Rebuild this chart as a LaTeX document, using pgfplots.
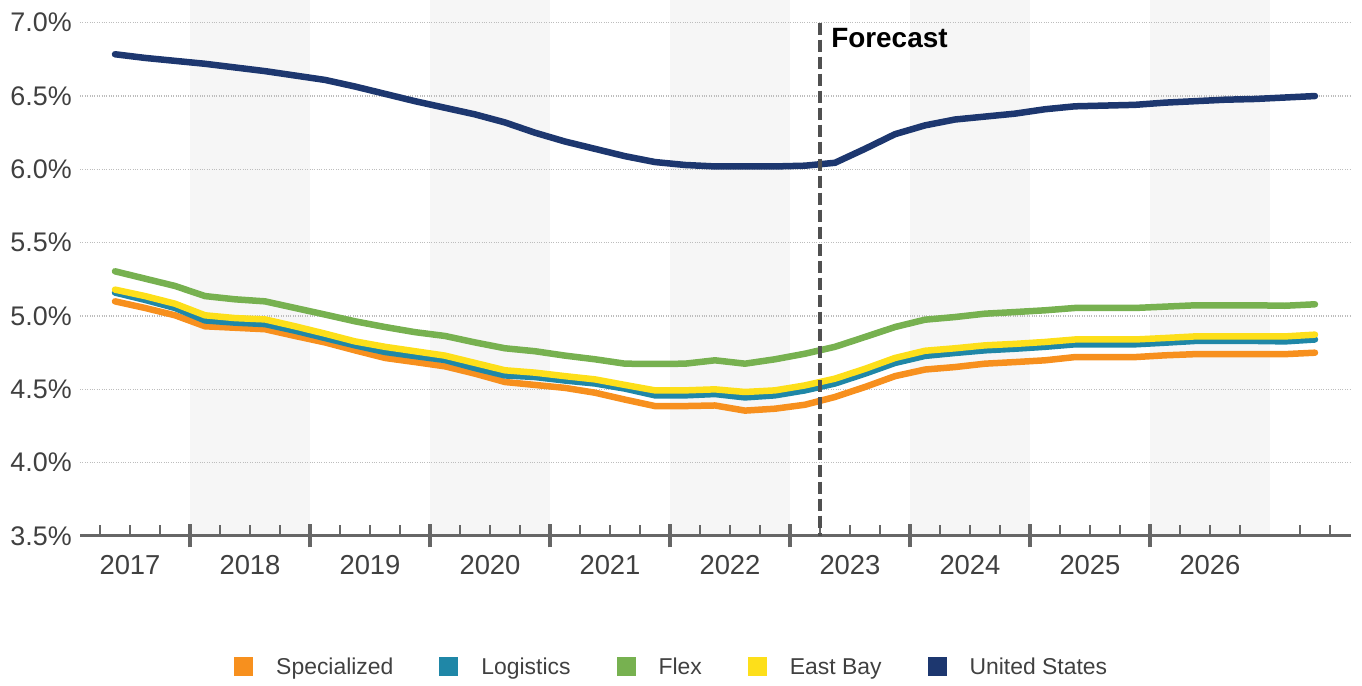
\documentclass[border=0pt]{standalone}
\usepackage{pgfplots}
\usepackage{pgfplotstable}
\pgfplotsset{compat=1.18}
\usepackage{fontspec}
\setmainfont{Liberation Sans}
\definecolor{cOrange}{HTML}{F7901E}
\definecolor{cBlue}{HTML}{1F87A7}
\definecolor{cGreen}{HTML}{77B150}
\definecolor{cYellow}{HTML}{FDDF1A}
\definecolor{cNavy}{HTML}{1D376F}
\definecolor{band}{HTML}{F6F6F6}
\definecolor{axgray}{HTML}{666666}
\definecolor{txt}{HTML}{404040}
\definecolor{gridc}{HTML}{BDBDBD}
\definecolor{dashc}{HTML}{505050}

% u = quarter index (1.5 = first point), values in percent
\pgfplotstableread{
u     orange  blue   green  yellow navy
1.5   5.100   5.160  5.305  5.180  6.785
2.5   5.055   5.110  5.255  5.136  6.760
3.5   5.005   5.055  5.205  5.084  6.740
4.5   4.930   4.970  5.136  5.005  6.720
5.5   4.920   4.955  5.114  4.986  6.695
6.5   4.910   4.945  5.100  4.977  6.670
7.5   4.864   4.900  5.055  4.930  6.640
8.5   4.820   4.850  5.010  4.880  6.610
9.5   4.766   4.800  4.964  4.827  6.565
10.5  4.714   4.755  4.925  4.790  6.515
11.5  4.686   4.727  4.890  4.760  6.465
12.5  4.657   4.700  4.864  4.730  6.420
13.5  4.607   4.645  4.820  4.680  6.375
14.5  4.550   4.595  4.780  4.630  6.320
15.5  4.530   4.584  4.760  4.614  6.250
16.5  4.510   4.560  4.730  4.590  6.190
17.5  4.477   4.540  4.705  4.568  6.140
18.5  4.430   4.505  4.675  4.530  6.090
19.5  4.386   4.459  4.673  4.493  6.050
20.5  4.386   4.459  4.675  4.493  6.030
21.5  4.390   4.468  4.698  4.500  6.020
22.5  4.355   4.445  4.675  4.482  6.020
23.5  4.368   4.459  4.705  4.493  6.020
24.5  4.395   4.493  4.743  4.527  6.025
25.5  4.448   4.540  4.790  4.573  6.045
26.5  4.516   4.607  4.857  4.640  6.140
27.5  4.590   4.680  4.925  4.714  6.240
28.5  4.635   4.728  4.975  4.763  6.300
29.5  4.652   4.748  4.993  4.780  6.340
30.5  4.675   4.766  5.016  4.800  6.360
31.5  4.686   4.777  5.027  4.810  6.380
32.5  4.698   4.790  5.039  4.823  6.410
33.5  4.720   4.807  5.055  4.840  6.430
34.5  4.720   4.807  5.055  4.840  6.435
35.5  4.720   4.807  5.055  4.840  6.440
36.5  4.732   4.818  5.064  4.850  6.455
37.5  4.740   4.830  5.073  4.861  6.465
38.5  4.740   4.830  5.073  4.861  6.475
39.5  4.740   4.830  5.073  4.861  6.480
40.5  4.740   4.827  5.070  4.861  6.490
41.5  4.750   4.840  5.080  4.873  6.500
}\rates

\begin{document}
\begin{tikzpicture}
\path (0,0) rectangle (1362bp,686bp);
\begin{axis}[
  set layers,
  scale only axis,
  width=1271bp, height=536bp,
  at={(80bp,150bp)}, anchor=south west,
  xmin=0.3333, xmax=42.7, ymin=3.5, ymax=7.155,
  axis x line*=bottom, axis y line*=left,
  x axis line style={draw=axgray, line width=3bp, -},
  y axis line style={draw=none, -},
  ytick={3.5,4.0,4.5,5.0,5.5,6.0,6.5,7.0},
  ytick style={draw=none},
  yticklabel={\pgfmathprintnumber[fixed,fixed zerofill,precision=1,assume math mode=true]{\tick}\%},
  yticklabel style={font=\fontsize{27}{27}\selectfont, text=txt, anchor=east, inner sep=0pt, xshift=-8bp},
  ymajorgrids,
  major grid style={draw=gridc, dotted, line width=1.3bp},
  xtick={2,6,10,14,18,22,26,30,34,38},
  xticklabels={2017,2018,2019,2020,2021,2022,2023,2024,2025,2026},
  xticklabel style={font=\fontsize{27.5}{27.5}\selectfont, text=txt, anchor=north, inner sep=0pt, yshift=-19bp},
  tick align=inside,
  major tick length=0pt,
  minor xtick={1,2,3,5,6,7,9,10,11,13,14,15,17,18,19,21,22,23,25,26,27,29,30,31,33,34,35,37,38,39,41,42},
  minor tick length=11bp,
  minor tick style={draw=axgray, line width=2.5bp},
  extra x ticks={4,8,12,16,20,24,28,32,36},
  extra x tick labels={},
  extra x tick style={tick align=center, major tick length=23bp, tick style={draw=axgray, line width=4bp}, grid=none},
  every axis plot/.append style={line width=6.5bp, line join=round, line cap=round},
  legend columns=5,
  legend style={at={(0.1212,-0.2444)}, anchor=west, draw=none, fill=none,
    font=\fontsize{23}{23}\selectfont, text=txt, inner sep=0pt,
    nodes={inner sep=0pt},
    /tikz/every odd column/.append style={column sep=23bp},
    /tikz/every even column/.append style={column sep=46bp}},
  legend image code/.code={\fill[#1, draw=none] (0bp,-9.5bp) rectangle (19bp,9.5bp);},
]
% alternating year bands
\addplot[fill=band, draw=none, forget plot, on layer=axis background] coordinates {(4,3.5) (4,7.155) (8,7.155) (8,3.5)};
\addplot[fill=band, draw=none, forget plot, on layer=axis background] coordinates {(12,3.5) (12,7.155) (16,7.155) (16,3.5)};
\addplot[fill=band, draw=none, forget plot, on layer=axis background] coordinates {(20,3.5) (20,7.155) (24,7.155) (24,3.5)};
\addplot[fill=band, draw=none, forget plot, on layer=axis background] coordinates {(28,3.5) (28,7.155) (32,7.155) (32,3.5)};
\addplot[fill=band, draw=none, forget plot, on layer=axis background] coordinates {(36,3.5) (36,7.155) (40,7.155) (40,3.5)};

\addplot[color=cOrange] table[x=u, y=orange] {\rates};
\addlegendentry{Specialized}
\addplot[color=cBlue] table[x=u, y=blue] {\rates};
\addlegendentry{Logistics}
\addplot[color=cGreen] table[x=u, y=green] {\rates};
\addlegendentry{Flex}
\addplot[color=cYellow] table[x=u, y=yellow] {\rates};
\addlegendentry{East Bay}
\addplot[color=cNavy] table[x=u, y=navy] {\rates};
\addlegendentry{United States}

\draw[dashc, line width=3.5bp, dash pattern=on 12bp off 5bp] (axis cs:25,7.0) -- (axis cs:25,3.5);
\node[anchor=west, inner sep=0pt, font=\bfseries\fontsize{28}{28}\selectfont, text=black] at (axis cs:25.37,6.896) {Forecast};
\end{axis}
\end{tikzpicture}
\end{document}
